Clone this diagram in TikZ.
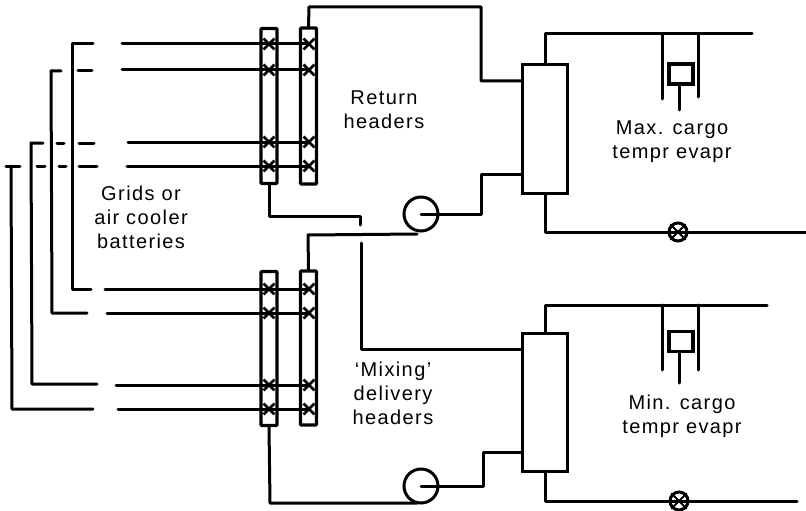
\documentclass[tikz,border=0pt]{standalone}
\usepackage{fontspec}
\setmainfont[LetterSpace=7]{Liberation Sans}
\usetikzlibrary{shapes.misc}

\begin{document}
\begin{tikzpicture} [x=1pt,y=-1pt]
	 \tikzstyle{edge} = [draw,line width=3pt,-,black,line join=round,line cap=round]
	 \tikzstyle{header} = [draw,line width=3.2pt,rectangle,rounded corners=1pt,minimum width=16pt,inner sep=0pt]
	 \tikzstyle{cooler} = [draw,line width=3.2pt,rectangle,minimum width=45pt,inner sep=0pt]
	 \tikzstyle{bulb} = [draw,line width=3.2pt,rectangle,minimum width=24pt,minimum height=20pt,inner sep=0pt]
	 \tikzstyle{pump} = [draw,line width=3pt,circle,minimum size=34pt,inner sep=0pt]
	 \tikzstyle{valve} = [draw,line width=3pt,circle,minimum size=18pt,inner sep=0pt]
	 \tikzstyle{cross} = [draw,line width=2.8pt,cross out,minimum size=8pt,inner sep=0pt]
	 \tikzstyle{label} = [align=center,font=\fontsize{20}{24}\selectfont]
	 \useasboundingbox (0,0) rectangle (806,511);

	 % headers
	 \node[header,minimum height=155pt] (ha1) at (269,106) {};
	 \node[header,minimum height=156pt] (hb1) at (308.5,106) {};
	 \node[header,minimum height=154pt] (ha2) at (269,348.5) {};
	 \node[header,minimum height=154pt] (hb2) at (308.5,348) {};

	 % coolers
	 \node[cooler,minimum height=129pt] (hx1) at (545,129) {};
	 \node[cooler,minimum height=138pt] (hx2) at (545,402.5) {};
	 \node[bulb] (bulb1) at (681,74) {};
	 \node[bulb] (bulb2) at (681,341.5) {};
	 \node[pump] (pump1) at (421,214) {};
	 \node[pump] (pump2) at (421,486) {};
	 \node[valve] (valve1) at (678,232) {};
	 \node[valve] (valve2) at (679,501) {};

	 % crosses
	 \node[cross] (xa1) at (269,44) {};
	 \node[cross] (xa2) at (269,70) {};
	 \node[cross] (xa3) at (269,142) {};
	 \node[cross] (xa4) at (269,166) {};
	 \node[cross] (xb1) at (309,44) {};
	 \node[cross] (xb2) at (309,70) {};
	 \node[cross] (xb3) at (309,142) {};
	 \node[cross] (xb4) at (309,166) {};
	 \node[cross] (xa5) at (269,289) {};
	 \node[cross] (xa6) at (269,313) {};
	 \node[cross] (xa7) at (269,385) {};
	 \node[cross] (xa8) at (269,409) {};
	 \node[cross] (xb5) at (309,289) {};
	 \node[cross] (xb6) at (309,313) {};
	 \node[cross] (xb7) at (309,385) {};
	 \node[cross] (xb8) at (309,409) {};

	 % upper ends of the grids
	 \coordinate (u1) at (122,44);
	 \coordinate (u2) at (122,70);
	 \coordinate (u3) at (128,142);
	 \coordinate (u4) at (127,166);
	 \coordinate (a1) at (93,44);
	 \coordinate (a2) at (72,44);
	 \coordinate (a3) at (72,289);
	 \coordinate (a4) at (91,289);
	 \coordinate (b1) at (61,71);
	 \coordinate (b2) at (51,71);
	 \coordinate (b3) at (52,313);
	 \coordinate (b4) at (87,313);
	 \coordinate (c1) at (43,143);
	 \coordinate (c2) at (31,143);
	 \coordinate (c3) at (32,384);
	 \coordinate (c4) at (97,384);
	 \coordinate (d1) at (20,166);
	 \coordinate (d2) at (6,166);
	 \coordinate (d3) at (11,166);
	 \coordinate (d4) at (12,409);
	 \coordinate (d5) at (93,409);

	 % lower ends of the grids
	 \coordinate (l1) at (105,289);
	 \coordinate (l2) at (107,313);
	 \coordinate (l3) at (116,385);
	 \coordinate (l4) at (118,409);

	 % broken pieces
	 \coordinate (p1) at (78,71);
	 \coordinate (p2) at (92,71);
	 \coordinate (p3) at (79,143);
	 \coordinate (p4) at (94,143);
	 \coordinate (p5) at (57,143);
	 \coordinate (p6) at (64,143);
	 \coordinate (p7) at (79,166);
	 \coordinate (p8) at (97,166);
	 \coordinate (p9) at (59,166);
	 \coordinate (p10) at (66,166);
	 \coordinate (p11) at (37,166);
	 \coordinate (p12) at (45,166);

	 \draw[edge] (u1) -- (xb1.center);
	 \draw[edge] (u2) -- (xb2.center);
	 \draw[edge] (u3) -- (xb3.center);
	 \draw[edge] (u4) -- (xb4.center);
	 \draw[edge] (l1) -- (xb5.center);
	 \draw[edge] (l2) -- (xb6.center);
	 \draw[edge] (l3) -- (xb7.center);
	 \draw[edge] (l4) -- (xb8.center);

	 \draw[edge] (a1) -- (a2) -- (a3) -- (a4);
	 \draw[edge] (b1) -- (b2) -- (b3) -- (b4);
	 \draw[edge] (c1) -- (c2) -- (c3) -- (c4);
	 \draw[edge] (d1) -- (d2);
	 \draw[edge] (d3) -- (d4) -- (d5);
	 \draw[edge] (p1) -- (p2);
	 \draw[edge] (p3) -- (p4);
	 \draw[edge] (p5) -- (p6);
	 \draw[edge] (p7) -- (p8);
	 \draw[edge] (p9) -- (p10);
	 \draw[edge] (p11) -- (p12);

	 % return side
	 \coordinate (r1) at (309,7);
	 \coordinate (r2) at (481,7);
	 \coordinate (r3) at (481,81);
	 \coordinate (r4) at (521,81);
	 \coordinate (r5) at (269,216);
	 \coordinate (r6) at (360,216);
	 \coordinate (r7) at (360,225);
	 \draw[edge] (hb1.north) -- (r1) -- (r2) -- (r3) -- (r4);
	 \draw[edge] (ha1.south) -- (r5) -- (r6) -- (r7);

	 % delivery side
	 \coordinate (m1) at (361,243);
	 \coordinate (m2) at (361,349);
	 \coordinate (m3) at (521,349);
	 \coordinate (m4) at (308,235);
	 \coordinate (m5) at (417,234);
	 \coordinate (m6) at (270,503);
	 \coordinate (m7) at (417,503);
	 \draw[edge] (m1) -- (m2) -- (m3);
	 \draw[edge] (hb2.north) -- (m4) -- (m5);
	 \draw[edge] (ha2.south) -- (m6) -- (m7);

	 % pumps to coolers
	 \coordinate (s1) at (481,214);
	 \coordinate (s2) at (481,174);
	 \coordinate (s3) at (521,174);
	 \coordinate (s4) at (483,486);
	 \coordinate (s5) at (483,452);
	 \coordinate (s6) at (521,452);
	 \draw[edge] (pump1.center) -- (s1) -- (s2) -- (s3);
	 \draw[edge] (pump2.center) -- (s4) -- (s5) -- (s6);

	 % evaporators, upper
	 \coordinate (e1) at (545,34);
	 \coordinate (e2) at (752,34);
	 \coordinate (e3) at (545,232);
	 \coordinate (e4) at (806,232);
	 \coordinate (e5) at (662,34);
	 \coordinate (e6) at (662,99);
	 \coordinate (e7) at (698,34);
	 \coordinate (e8) at (698,97);
	 \coordinate (e9) at (679,110);
	 \draw[edge] (hx1.north) -- (e1) -- (e2);
	 \draw[edge] (hx1.south) -- (e3) -- (e4);
	 \draw[edge] (e5) -- (e6);
	 \draw[edge] (e7) -- (e8);
	 \draw[edge] (bulb1.south -| e9) -- (e9);
	 \draw[edge,line width=2pt] (valve1.north west) -- (valve1.south east);
	 \draw[edge,line width=2pt] (valve1.north east) -- (valve1.south west);

	 % evaporators, lower
	 \coordinate (f1) at (545,305);
	 \coordinate (f2) at (767,305);
	 \coordinate (f3) at (545,501);
	 \coordinate (f4) at (797,501);
	 \coordinate (f5) at (662,305);
	 \coordinate (f6) at (662,370);
	 \coordinate (f7) at (698,305);
	 \coordinate (f8) at (698,370);
	 \coordinate (f9) at (679,383);
	 \draw[edge] (hx2.north) -- (f1) -- (f2);
	 \draw[edge] (hx2.south) -- (f3) -- (f4);
	 \draw[edge] (f5) -- (f6);
	 \draw[edge] (f7) -- (f8);
	 \draw[edge] (bulb2.south -| f9) -- (f9);
	 \draw[edge,line width=2pt] (valve2.north west) -- (valve2.south east);
	 \draw[edge,line width=2pt] (valve2.north east) -- (valve2.south west);

	 \node[label] (grids) at (141,217) {Grids or\\air cooler\\batteries};
	 \node[label] (return) at (384,110) {Return\\headers};
	 \node[label] (mixing) at (393,393) {`Mixing'\\delivery\\headers};
	 \node[label] (maxevap) at (672,142) {Max. cargo\\tempr evapr};
	 \node[label] (minevap) at (682,416) {Min. cargo\\tempr evapr};
 \end{tikzpicture}
\end{document}
